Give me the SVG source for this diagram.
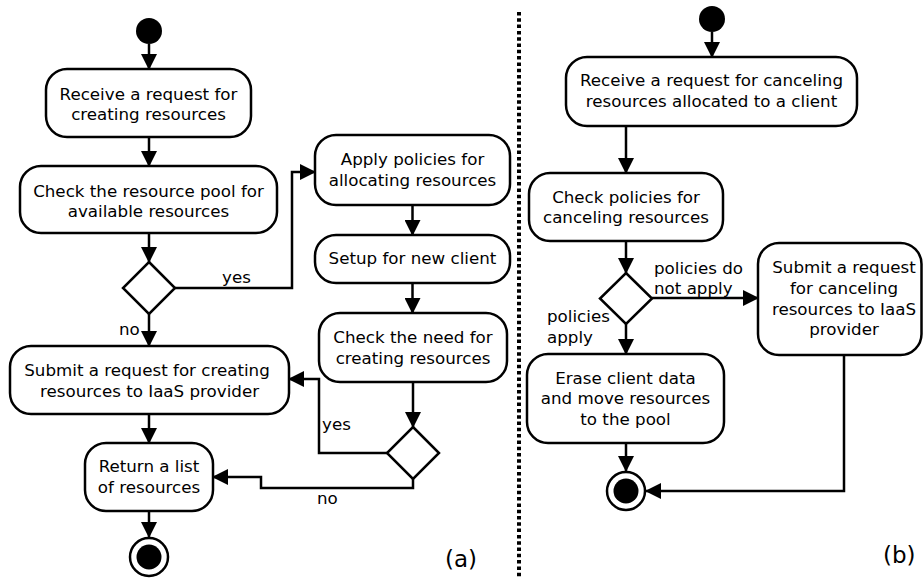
<svg xmlns="http://www.w3.org/2000/svg" width="923" height="578" viewBox="0 0 923 578">
<style>
.box{fill:#fff;stroke:#000;stroke-width:2.5}
.t{font-family:"DejaVu Sans",sans-serif;font-size:16.7px;fill:#000;text-anchor:middle}
.l{font-family:"DejaVu Sans",sans-serif;font-size:16.7px;fill:#000}
.cap{font-family:"DejaVu Sans",sans-serif;font-size:23px;fill:#000}
.c{fill:none;stroke:#000;stroke-width:2.5;marker-end:url(#ah)}
</style>
<defs>
<marker id="ah" viewBox="0 0 16 16" refX="15" refY="8" markerWidth="16" markerHeight="16" markerUnits="userSpaceOnUse" orient="auto">
<path d="M0,0 L16,8 L0,16 z" fill="#000"/>
</marker>
</defs>
<rect width="923" height="578" fill="#fff"/>
<line x1="519" y1="12" x2="519" y2="578" stroke="#000" stroke-width="4" stroke-dasharray="3.5 2.8"/>

<g id="connectors">
<path class="c" d="M149,44 V69"/>
<path class="c" d="M149,137 V166"/>
<path class="c" d="M149,233 V262"/>
<path class="c" d="M175,288 H292 V172 H315"/>
<path class="c" d="M149,314 V346"/>
<path class="c" d="M149,414 V443"/>
<path class="c" d="M149,511 V537"/>
<path class="c" d="M412.5,205 V235"/>
<path class="c" d="M412.5,283 V313"/>
<path class="c" d="M413,382 V427"/>
<path class="c" d="M387,453 H319 V379 H289"/>
<path class="c" d="M413,479 V488 H261 V477 H213"/>
<path class="c" d="M712,32 V57"/>
<path class="c" d="M626,126 V173"/>
<path class="c" d="M626,241 V273"/>
<path class="c" d="M652,298 H758"/>
<path class="c" d="M626,324 V354"/>
<path class="c" d="M626,443 V471"/>
<path class="c" d="M844,355 V491 H646"/>
</g>

<g id="a_start"><circle cx="149" cy="31" r="13" fill="#000"/></g>
<g id="a_receive">
<rect class="box" x="46" y="69" width="205" height="68" rx="21"/>
<text class="t" x="148.5" y="100">Receive a request for</text>
<text class="t" x="148.5" y="120">creating resources</text>
</g>
<g id="a_check_pool">
<rect class="box" x="20" y="166" width="257" height="67" rx="21"/>
<text class="t" x="148.5" y="196.5">Check the resource pool for</text>
<text class="t" x="148.5" y="216.5">available resources</text>
</g>
<g id="a_dec1"><path class="box" d="M149,262 L175,288 L149,314 L123,288 Z"/></g>
<g id="a_submit">
<rect class="box" x="10" y="346" width="279" height="68" rx="21"/>
<text class="t" x="147" y="376">Submit a request for creating</text>
<text class="t" x="149.5" y="396.5">resources to IaaS provider</text>
</g>
<g id="a_return">
<rect class="box" x="85" y="443" width="128" height="68" rx="21"/>
<text class="t" x="149" y="472">Return a list</text>
<text class="t" x="149" y="492.5">of resources</text>
</g>
<g id="a_end">
<circle cx="149" cy="557" r="19" fill="#fff" stroke="#000" stroke-width="2.5"/>
<circle cx="149" cy="557" r="12.5" fill="#000"/>
</g>
<g id="a_apply">
<rect class="box" x="315" y="135" width="195" height="70" rx="21"/>
<text class="t" x="412.5" y="165">Apply policies for</text>
<text class="t" x="412.5" y="185.5">allocating resources</text>
</g>
<g id="a_setup">
<rect class="box" x="315" y="235" width="195" height="48" rx="21"/>
<text class="t" x="412.5" y="263.5">Setup for new client</text>
</g>
<g id="a_check_need">
<rect class="box" x="319" y="313" width="188" height="69" rx="21"/>
<text class="t" x="413" y="343">Check the need for</text>
<text class="t" x="413" y="363.5">creating resources</text>
</g>
<g id="a_dec2"><path class="box" d="M413,427 L439,453 L413,479 L387,453 Z"/></g>

<g id="labels_a">
<text class="l" x="222" y="283">yes</text>
<text class="l" x="119" y="335">no</text>
<text class="l" x="322" y="430">yes</text>
<text class="l" x="317" y="504">no</text>
<text class="cap" x="445" y="567">(a)</text>
</g>

<g id="b_start"><circle cx="712" cy="19" r="13" fill="#000"/></g>
<g id="b_receive">
<rect class="box" x="566" y="57" width="291" height="69" rx="21"/>
<text class="t" x="711.5" y="86">Receive a request for canceling</text>
<text class="t" x="711.5" y="106.5">resources allocated to a client</text>
</g>
<g id="b_check">
<rect class="box" x="529" y="173" width="194" height="68" rx="21"/>
<text class="t" x="626" y="203">Check policies for</text>
<text class="t" x="626" y="223">canceling resources</text>
</g>
<g id="b_dec"><path class="box" d="M626,273 L652,298.5 L626,324 L600,298.5 Z"/></g>
<g id="b_submit">
<rect class="box" x="758" y="243" width="163.5" height="112" rx="21"/>
<text class="t" x="844" y="273">Submit a request</text>
<text class="t" x="844" y="294">for canceling</text>
<text class="t" x="844" y="314.5">resources to IaaS</text>
<text class="t" x="844" y="335">provider</text>
</g>
<g id="b_erase">
<rect class="box" x="527" y="354" width="197" height="89" rx="21"/>
<text class="t" x="625.5" y="383.5">Erase client data</text>
<text class="t" x="625.5" y="404">and move resources</text>
<text class="t" x="625.5" y="424.5">to the pool</text>
</g>
<g id="b_end">
<circle cx="626" cy="491" r="19" fill="#fff" stroke="#000" stroke-width="2.5"/>
<circle cx="626" cy="491" r="12.5" fill="#000"/>
</g>
<g id="labels_b">
<text class="l" x="654" y="273.5">policies do</text>
<text class="l" x="654" y="294">not apply</text>
<text class="l" x="547" y="321.5">policies</text>
<text class="l" x="547" y="342.5">apply</text>
<text class="cap" x="883" y="563">(b)</text>
</g>
</svg>
